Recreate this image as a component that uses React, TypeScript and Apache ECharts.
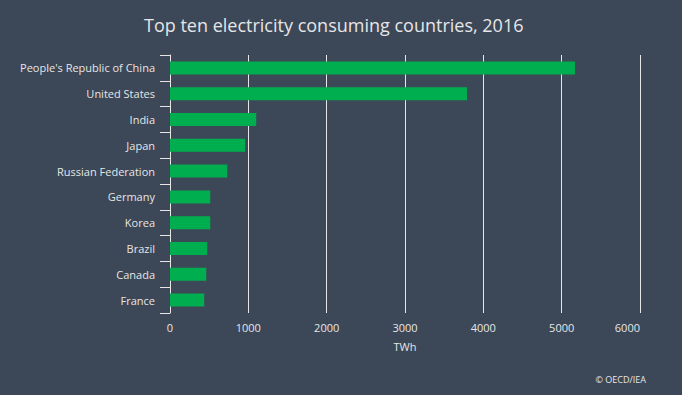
import React, { useEffect, useRef } from "react";
import * as echarts from "echarts";

const countries = [
  "People's Republic of China",
  "United States",
  "India",
  "Japan",
  "Russian Federation",
  "Germany",
  "Korea",
  "Brazil",
  "Canada",
  "France",
];
const consumption = [5170, 3792, 1101, 960, 731, 514, 514, 476, 463, 437];
const xTicks = { min: 0, max: 6000, interval: 1000 };

const TEXT = "#e6e6e6";
const FONT = "'Open Sans', sans-serif";

export default function App() {
  const ref = useRef<HTMLDivElement>(null);
  useEffect(() => {
    if (!ref.current) return;
    const chart = echarts.init(ref.current, null, { renderer: "svg" });
    chart.setOption({
      animation: false,
      backgroundColor: "#3c4757",
      title: [
        {
          text: "Top ten electricity consuming countries, 2016",
          left: 139,
          top: 11,
          textStyle: { color: TEXT, fontSize: 18, fontWeight: "normal", fontFamily: FONT },
        },
        {
          text: "© OECD/IEA",
          right: 31,
          top: 370,
          textStyle: { color: TEXT, fontSize: 9, fontWeight: "normal", fontFamily: FONT },
        },
      ],
      grid: { left: 170, right: 42, top: 55, bottom: 82 },
      xAxis: {
        type: "value",
        min: xTicks.min,
        max: xTicks.max,
        interval: xTicks.interval,
        name: "TWh",
        nameLocation: "middle",
        nameGap: 28,
        nameTextStyle: { color: TEXT, fontSize: 11, fontFamily: FONT },
        axisLine: { show: false },
        axisTick: { show: false },
        axisLabel: {
          color: TEXT,
          fontSize: 11,
          fontFamily: FONT,
          margin: 9,
          alignMaxLabel: "right",
          formatter: (v: number) => String(v),
        },
        splitLine: { show: true, lineStyle: { color: "#e6e6e6", width: 1 } },
      },
      yAxis: {
        type: "category",
        data: countries,
        inverse: true,
        axisLine: { show: true, lineStyle: { color: "#e6e6e6", width: 1 } },
        axisTick: { show: true, length: 10, lineStyle: { color: "#e6e6e6" } },
        axisLabel: { color: TEXT, fontSize: 11, fontFamily: FONT, margin: 15 },
      },
      series: [
        {
          type: "bar",
          data: consumption,
          barWidth: 13,
          itemStyle: { color: "#00ae4f" },
        },
      ],
    });
    return () => chart.dispose();
  }, []);
  return (
    <div
      ref={ref}
      style={{ width: 682, height: 395, position: "absolute", left: 0, top: 0 }}
    />
  );
}
